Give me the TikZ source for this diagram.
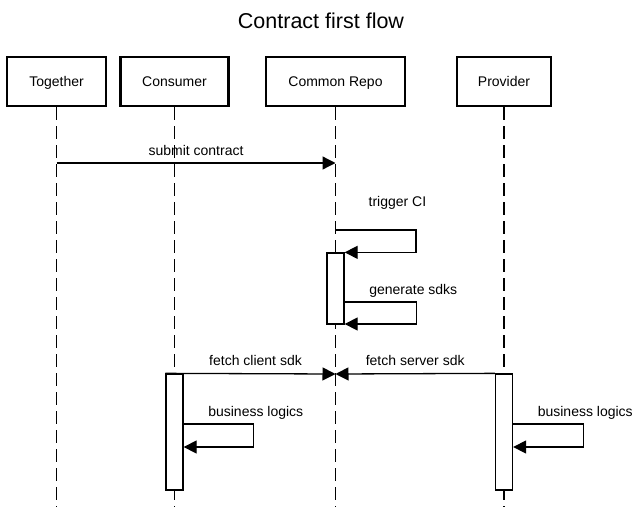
\documentclass[tikz,border=0pt]{standalone}
\usepackage{fontspec}
\setmainfont{Liberation Sans}
\usetikzlibrary{arrows.meta}

\tikzstyle{heading} = [font=\fontsize{21.5}{24}\selectfont,anchor=base]
\tikzstyle{actor} = [draw,line width=2.2pt,minimum height=49pt,font=\fontsize{14}{16}\selectfont,text height=10pt,text depth=0pt]
\tikzstyle{lifeline} = [draw,line width=1.3pt,dash pattern=on 13pt off 6pt]
\tikzstyle{activation} = [draw,fill=white,line width=1.3pt,minimum width=17pt,inner sep=0pt]
\tikzstyle{msg} = [draw,line width=1.3pt,-{Triangle[length=13pt,width=13pt]}]
\tikzstyle{msglabel} = [font=\fontsize{14}{16}\selectfont,anchor=base,yshift=8pt]
\tikzstyle{selflabel} = [font=\fontsize{14}{16}\selectfont,anchor=base west,inner sep=0pt,xshift=24pt,yshift=8pt]

\begin{document}
\begin{tikzpicture}[x=1pt,y=-1pt]
    \useasboundingbox[fill=white] (0,0) rectangle (643,507);
    \node[heading] (title) at (321,28) {Contract first flow};
    %% participants and lifelines
    \foreach \nodename/\actorname/\x/\w in {
      together/Together/56.5/99pt,
      consumer/Consumer/174.5/108pt,
      repo/Common Repo/335.5/139pt,
      provider/Provider/504/94pt}
    {
      \node[actor, minimum width=\w] (\nodename) at (\x,81.5) {\actorname};
      \coordinate (\nodename-end) at (\x,507);
      \path[lifeline] (\nodename) -- (\nodename-end);
    }
    %% activation bars
    \foreach \nodename/\x/\y/\h in {
      repo/335.5/288.5/71pt,
      consumer/174.5/432/116pt,
      provider/504/432/116pt}
    {
      \node[activation, minimum height=\h] (\nodename-act) at (\x,\y) {};
    }
    %messages
    \coordinate (submit) at (together |- 0,163);
    \draw[msg] (submit) -- node[msglabel] {submit contract} (submit -| repo);
    \coordinate (trigger) at (repo |- 0,230);
    \draw[msg] (trigger) node[selflabel, xshift=8.5pt, yshift=16pt] {trigger CI} -- ++(80.5,0) |- (repo-act.north east);
    \coordinate (fetch) at (repo |- 0,374);
    \draw[msg] (consumer-act.north west) -- node[msglabel, pos=0.53] {fetch client sdk} (fetch);
    \draw[msg] (provider-act.north west) -- node[msglabel] {fetch server sdk} (fetch);
    %self calls
    \foreach \nodename/\ystart/\yend/\reach/\lab in {
      repo/302/324/72/generate sdks,
      consumer/424/447/70/business logics,
      provider/424/447/70/business logics}
    {
      \coordinate (\nodename-out) at (\nodename-act.east |- 0,\ystart);
      \coordinate (\nodename-in) at (\nodename-act.east |- 0,\yend);
      \draw[msg] (\nodename-out) node[selflabel] {\lab} -- ++(\reach,0) |- (\nodename-in);
    }
\end{tikzpicture}
\end{document}
